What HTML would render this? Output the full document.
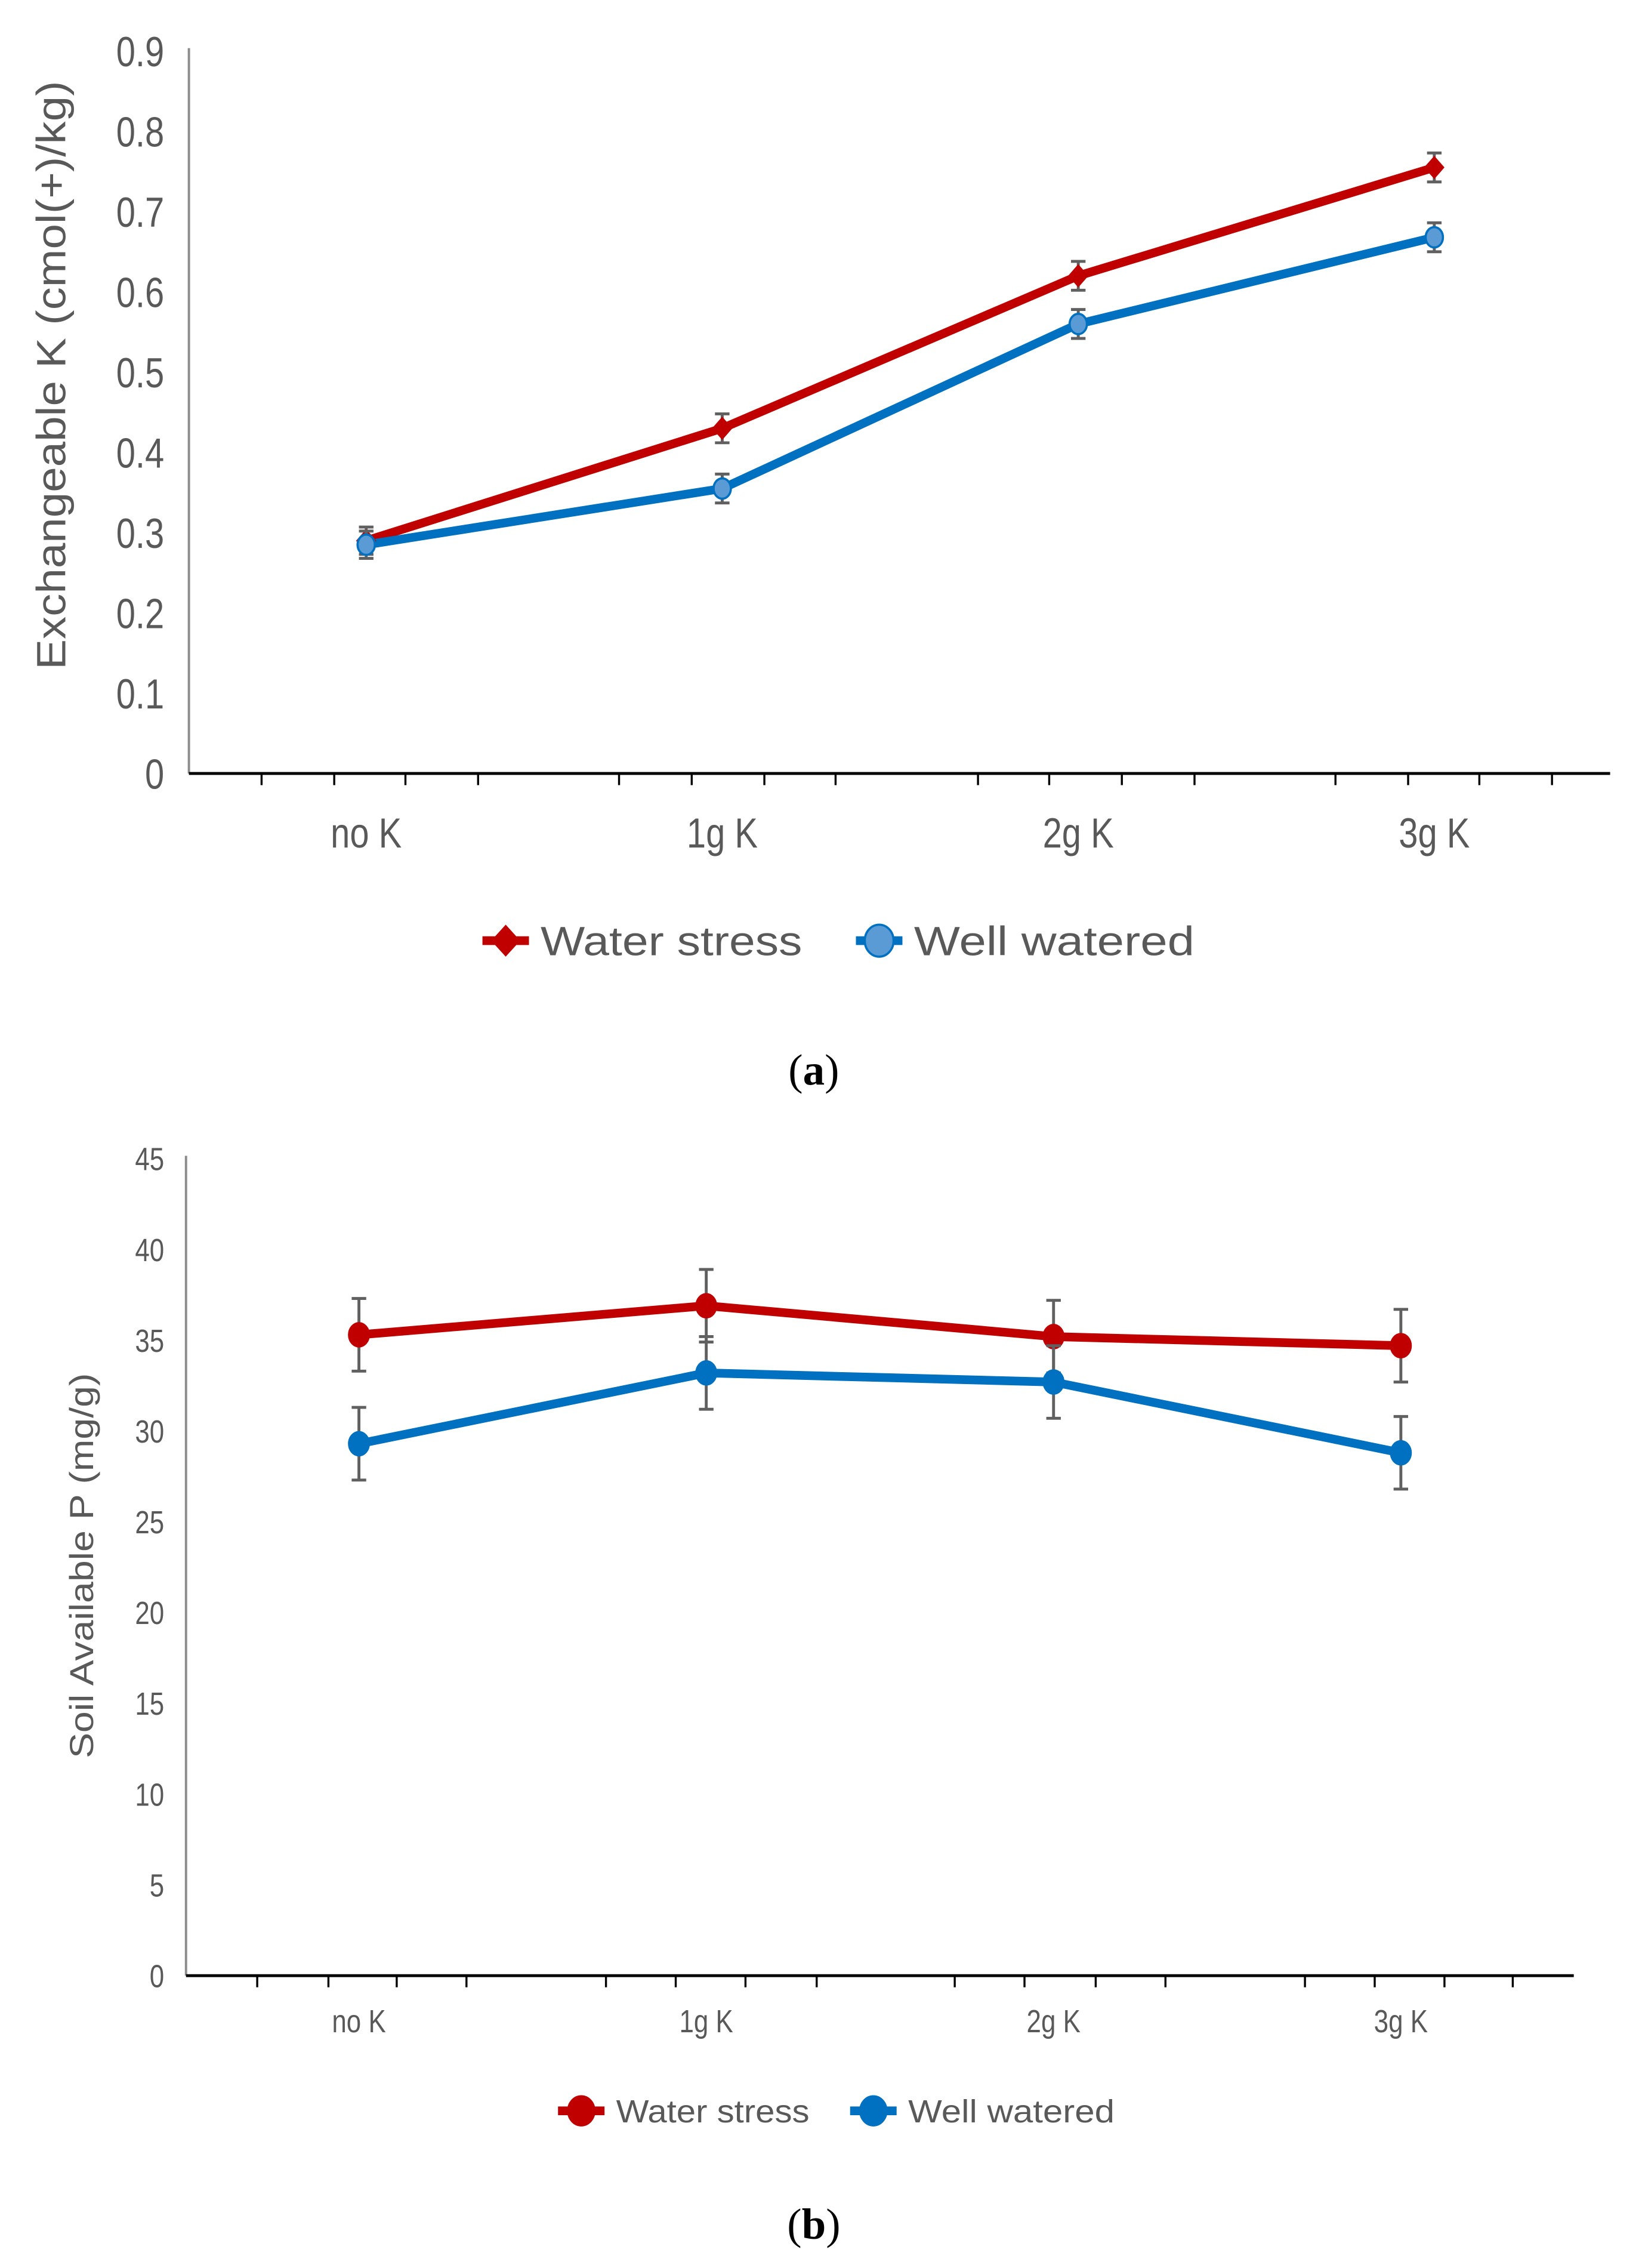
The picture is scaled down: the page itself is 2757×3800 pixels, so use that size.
<!DOCTYPE html>
<html><head><meta charset="utf-8"><style>
html,body{margin:0;padding:0;background:#fff;}
svg{display:block;}
text{font-family:"Liberation Sans",sans-serif;fill:#595959;}
</style></head><body>
<svg id="fig" width="2757" height="3800" viewBox="0 0 1132 1560" xmlns="http://www.w3.org/2000/svg">
<g id="chartA"></g>
<g id="chartB"></g>
<text x="560" y="746" text-anchor="middle" font-size="30" style="fill:#000;font-family:'Liberation Serif',serif">(<tspan font-weight="bold">a</tspan>)</text>
<text x="560" y="1540" text-anchor="middle" font-size="30" style="fill:#000;font-family:'Liberation Serif',serif">(<tspan font-weight="bold">b</tspan>)</text>
</svg>
<script>
const categories = ["no K","1g K","2g K","3g K"];
const aWaterStress = [0.29,0.43,0.62,0.755];
const aWellWatered = [0.285,0.355,0.56,0.668];
const aErr = [0.017,0.018,0.018,0.018];
const aTicks = ["0","0.1","0.2","0.3","0.4","0.5","0.6","0.7","0.8","0.9"];
const bWaterStress = [35.3,36.9,35.2,34.7];
const bWellWatered = [29.3,33.2,32.7,28.8];
const bErr = [2,2,2,2];
const bTicks = ["0","5","10","15","20","25","30","35","40","45"];
const NS="http://www.w3.org/2000/svg";
function mk(parent,tag,attrs,txt){const e=document.createElementNS(NS,tag);for(const k in attrs)e.setAttribute(k,attrs[k]);if(txt!==undefined)e.textContent=txt;parent.appendChild(e);return e;}
function draw(g,cfg){
  const ys=v=>cfg.y0-(v/cfg.ymax)*(cfg.y0-cfg.ytop);
  const xs=i=>cfg.xc0+i*cfg.xstep;
  let ya=mk(g,'line',{x1:cfg.ax,y1:cfg.ytop-2,x2:cfg.ax,y2:cfg.y0,stroke:'#8c8c8c','stroke-width':1.6});
  
  let xa=mk(g,'line',{x1:cfg.ax,y1:cfg.y0,x2:cfg.axEnd,y2:cfg.y0,stroke:'#000','stroke-width':2});
  
  cfg.tickX.forEach(t=>{let l=mk(g,'line',{x1:t,y1:cfg.y0,x2:t,y2:cfg.y0+8,stroke:'#000','stroke-width':1.4});
    });
  cfg.ticks.forEach((t,i)=>{const v=i*cfg.ymax/(cfg.ticks.length-1);
    let tx=mk(g,'text',{x:cfg.tlx,y:ys(v)+cfg.tfs*0.36,'text-anchor':'end','font-size':cfg.tfs,transform:`translate(${cfg.tlx},0) scale(0.82,1) translate(${-cfg.tlx},0)`},t);
    });
  categories.forEach((c,i)=>{let tx=mk(g,'text',{x:xs(i),y:cfg.catY,'text-anchor':'middle','font-size':cfg.cfs,transform:`translate(${xs(i)},0) scale(0.82,1) translate(${-xs(i)},0)`},c);
    });
  let yt=mk(g,'text',{x:0,y:0,'text-anchor':'middle','font-size':cfg.yfs,textLength:cfg.ytLen,lengthAdjust:'spacingAndGlyphs',transform:`translate(${cfg.ytX},${cfg.ytY}) rotate(-90)`},cfg.ytitle);
  
  const series=[{d:cfg.ws,c:'#C00000',m:'#C00000',name:'water-stress'},{d:cfg.ww,c:'#0070C0',m:cfg.wwMarker,name:'well-watered'}];
  series.forEach(s=>{
    let p=mk(g,'polyline',{points:s.d.map((v,i)=>xs(i)+','+ys(v)).join(' '),fill:'none',stroke:s.c,'stroke-width':cfg.lw,'stroke-linejoin':'round'});
    
  });
  series.forEach(s=>{
    s.d.forEach((v,i)=>{
      const x=xs(i),e=cfg.err[i];
      let eb=mk(g,'path',{d:`M${x},${ys(v+e)}V${ys(v-e)}M${x-5},${ys(v+e)}H${x+5}M${x-5},${ys(v-e)}H${x+5}`,stroke:'#606060','stroke-width':2,fill:'none'});
      
      let mkr;
      if(cfg.diamond && s.name==='water-stress'){mkr=mk(g,'path',{d:`M${x},${ys(v)-8}L${x+7},${ys(v)}L${x},${ys(v)+8}L${x-7},${ys(v)}Z`,fill:s.m});}
      else mkr=mk(g,'ellipse',{cx:x,cy:ys(v),rx:cfg.mr*0.85,ry:cfg.mr,fill:s.m,stroke:s.c,'stroke-width':1.5});
      
    });
  });
  const L=cfg.leg;
  [[L.x1,'#C00000','#C00000','Water stress',L.t1,true],[L.x2,'#0070C0',cfg.wwMarker,'Well watered',L.t2,false]].forEach(([x,c,m,label,tl,isWs])=>{
    let ln=mk(g,'line',{x1:x-16,y1:L.y,x2:x+16,y2:L.y,stroke:c,'stroke-width':cfg.lw});
    
    let mm;
    if(cfg.diamond&&isWs) mm=mk(g,'path',{d:`M${x},${L.y-11}L${x+10},${L.y}L${x},${L.y+11}L${x-10},${L.y}Z`,fill:m});
    else mm=mk(g,'ellipse',{cx:x,cy:L.y,rx:cfg.lmr*0.9,ry:cfg.lmr,fill:m,stroke:c,'stroke-width':1.5});
    
    let t=mk(g,'text',{x:x+24,y:L.y+L.fs*0.36,'font-size':L.fs,textLength:tl,lengthAdjust:'spacingAndGlyphs'},label);
    
  });
}
draw(document.getElementById('chartA'),{
  ymax:0.9,y0:532,ytop:35,ax:130,axEnd:1108,xc0:252,xstep:245,
  tickX:[180,230,279,329,426,476,526,575,673,722,772,822,919,969,1018,1068],
  ticks:aTicks,tlx:113,tfs:29,cfs:29,catY:583,yfs:28,ytLen:405,ytX:45,ytY:258,
  ytitle:'Exchangeable K (cmol(+)/kg)',ws:aWaterStress,ww:aWellWatered,err:aErr,
  lw:6,mr:7,lmr:11,wwMarker:'#5B9BD5',diamond:true,
  leg:{y:647,x1:348,x2:605,t1:180,t2:193,fs:28}
});
draw(document.getElementById('chartB'),{
  ymax:45,y0:1359,ytop:797,ax:128,axEnd:1083,xc0:247,xstep:239,
  tickX:[177,226,273,321,417,465,513,562,657,705,754,802,898,946,994,1041],
  ticks:aTicks.map((_,i)=>bTicks[i]),tlx:113,tfs:22,cfs:22,catY:1398,yfs:23,ytLen:265,ytX:64,ytY:1077,
  ytitle:'Soil Available P (mg/g)',ws:bWaterStress,ww:bWellWatered,err:bErr,
  lw:6,mr:8,lmr:10,wwMarker:'#0070C0',diamond:false,
  leg:{y:1452,x1:400,x2:601,t1:133,t2:142,fs:22}
});
</script>
</body></html>
